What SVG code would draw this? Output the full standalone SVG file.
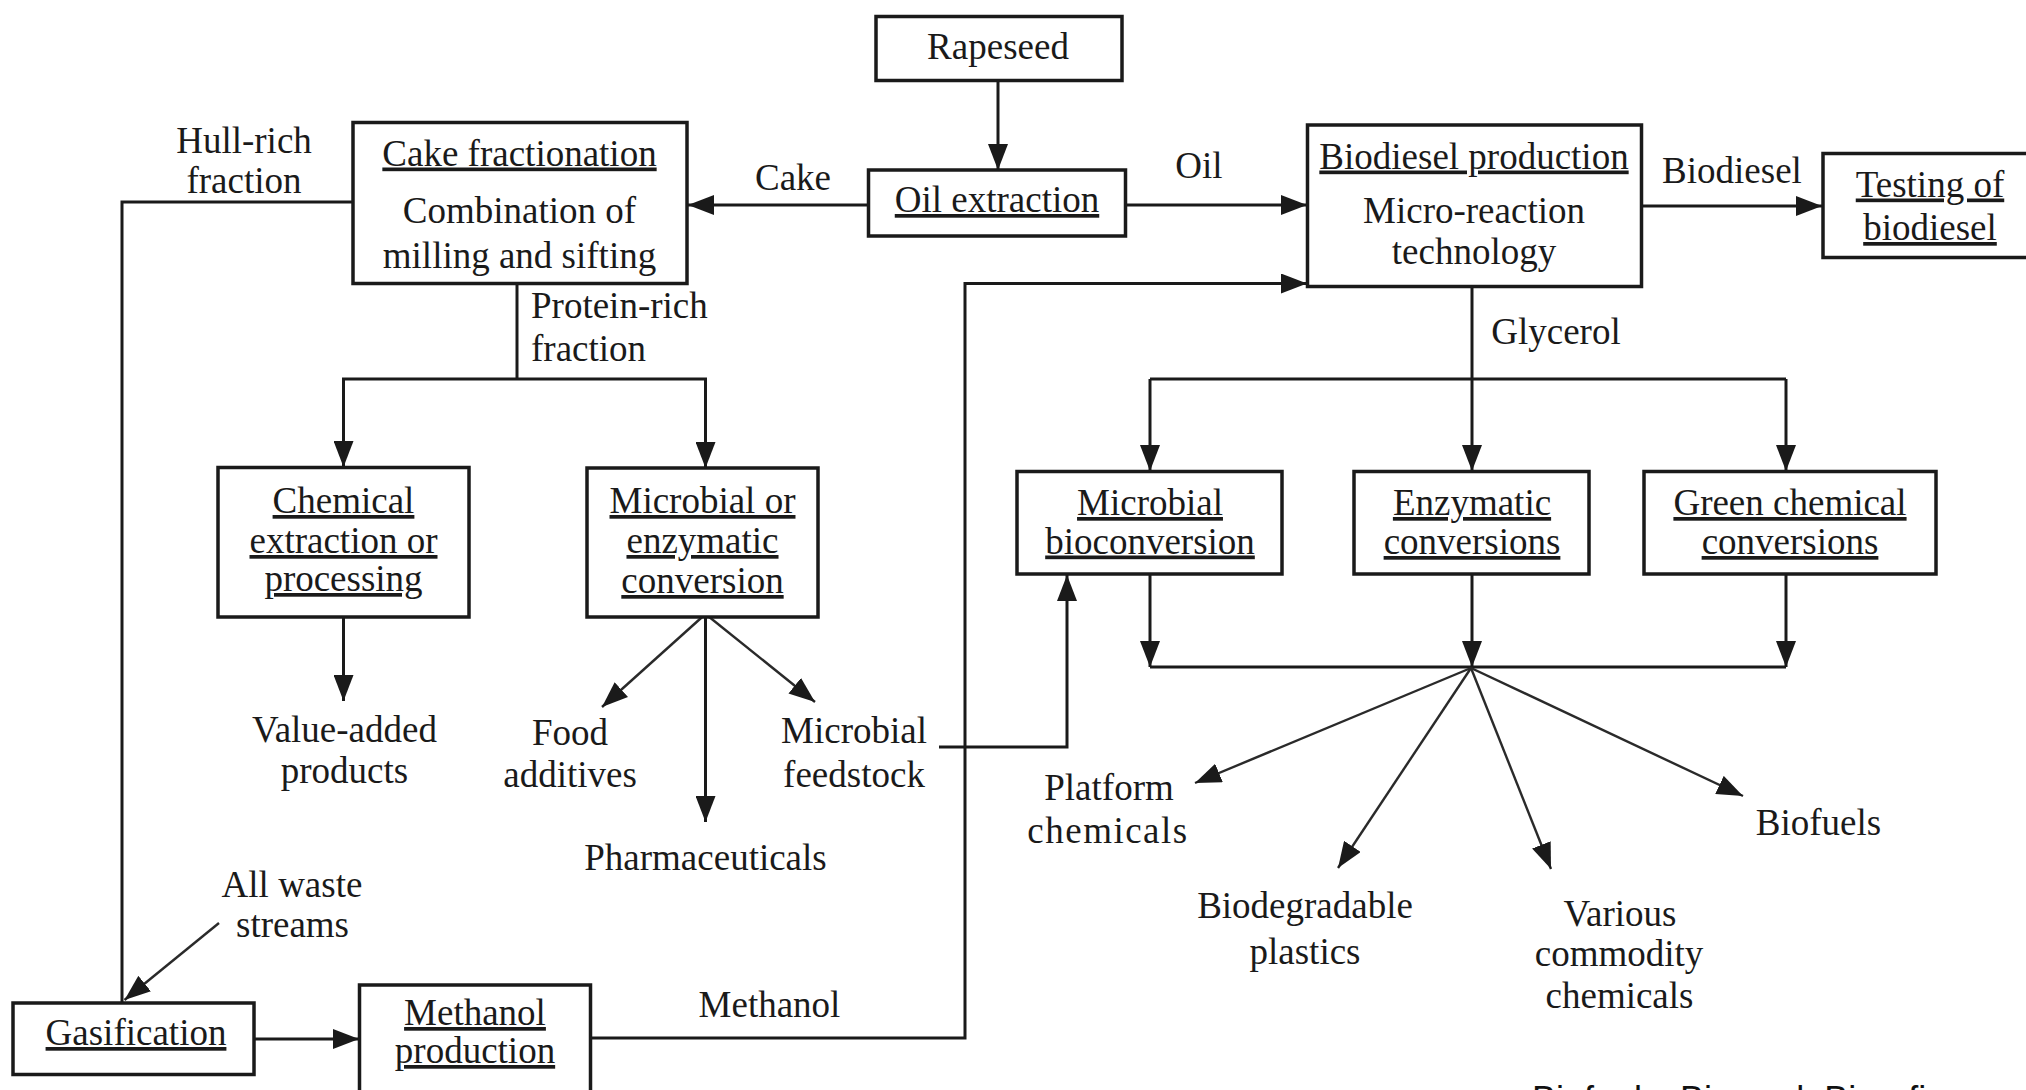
<svg xmlns="http://www.w3.org/2000/svg" width="2026" height="1090" viewBox="0 0 2026 1090">
<defs>
<style>
.bg{fill:#ffffff}
.box{fill:#ffffff;stroke:#1a1a1a;stroke-width:3.5}
.ln{fill:none;stroke:#1a1a1a;stroke-width:3}
.thin{fill:none;stroke:#2a2a2a;stroke-width:2.4}
.t{font-family:"Liberation Serif","Times New Roman",serif;font-size:37px;fill:#1a1a1a;text-anchor:middle}
.s{text-anchor:start}
.u{text-decoration:underline;text-decoration-thickness:3px}
.cap{font-family:"Liberation Sans",Arial,sans-serif;font-size:36px;fill:#111}
</style>
<marker id="arr" markerUnits="userSpaceOnUse" markerWidth="26" markerHeight="20" viewBox="0 0 26 20" refX="26" refY="10" orient="auto">
<path d="M0,0 L26,10 L0,20 Z" fill="#1a1a1a"/>
</marker>
</defs>
<rect class="bg" x="0" y="0" width="2026" height="1090"/>

<g id="connectors">
<line class="ln" x1="998" y1="81" x2="998" y2="170" marker-end="url(#arr)"/>
<line class="ln" x1="868" y1="205" x2="688" y2="205" marker-end="url(#arr)"/>
<line class="ln" x1="1125" y1="205" x2="1307" y2="205" marker-end="url(#arr)"/>
<polyline class="ln" points="353,202 122,202 122,1003"/>
<polyline class="ln" points="517,283 517,379"/>
<polyline class="ln" points="343.5,467 343.5,379 705.5,379 705.5,468"/>
<line class="ln" x1="343.5" y1="379" x2="343.5" y2="467" marker-end="url(#arr)"/>
<line class="ln" x1="705.5" y1="379" x2="705.5" y2="468" marker-end="url(#arr)"/>
<line class="ln" x1="343.5" y1="617" x2="343.5" y2="701" marker-end="url(#arr)"/>
<line class="thin" x1="705.5" y1="614" x2="602" y2="707" marker-end="url(#arr)"/>
<line class="ln" x1="705.5" y1="614" x2="705.5" y2="822" marker-end="url(#arr)"/>
<line class="thin" x1="705.5" y1="614" x2="815" y2="702" marker-end="url(#arr)"/>
<polyline class="ln" points="939,747 1067,747 1067,575" marker-end="url(#arr)"/>
<polyline class="ln" points="591,1038 965,1038 965,283.5 1307,283.5" marker-end="url(#arr)"/>
<line class="ln" x1="1642" y1="206" x2="1822" y2="206" marker-end="url(#arr)"/>
<line class="ln" x1="1472" y1="287" x2="1472" y2="471" marker-end="url(#arr)"/>
<polyline class="ln" points="1150,379 1786,379"/>
<line class="ln" x1="1150" y1="379" x2="1150" y2="471" marker-end="url(#arr)"/>
<line class="ln" x1="1786" y1="379" x2="1786" y2="471" marker-end="url(#arr)"/>
<line class="ln" x1="1150" y1="574" x2="1150" y2="667" marker-end="url(#arr)"/>
<line class="ln" x1="1472" y1="574" x2="1472" y2="667" marker-end="url(#arr)"/>
<line class="ln" x1="1786" y1="574" x2="1786" y2="667" marker-end="url(#arr)"/>
<polyline class="ln" points="1150,667 1786,667"/>
<line class="thin" x1="1471" y1="668" x2="1195" y2="783" marker-end="url(#arr)"/>
<line class="thin" x1="1471" y1="668" x2="1338" y2="868" marker-end="url(#arr)"/>
<line class="thin" x1="1471" y1="668" x2="1551" y2="869" marker-end="url(#arr)"/>
<line class="thin" x1="1471" y1="668" x2="1743" y2="796" marker-end="url(#arr)"/>
<line class="thin" x1="219" y1="923" x2="124.5" y2="1000" marker-end="url(#arr)"/>
<line class="ln" x1="254" y1="1039" x2="359" y2="1039" marker-end="url(#arr)"/>
</g>

<g id="rapeseed">
<rect class="box" x="876" y="16.5" width="246" height="64"/>
<text class="t" x="998" y="59">Rapeseed</text>
</g>
<g id="oil-extraction">
<rect class="box" x="868.5" y="170" width="257" height="66"/>
<text class="t u" x="997" y="212">Oil extraction</text>
</g>
<g id="cake-fractionation">
<rect class="box" x="353" y="122.5" width="334" height="161"/>
<text class="t u" x="519.5" y="165.5">Cake fractionation</text>
<text class="t" x="519.5" y="222.5">Combination of</text>
<text class="t" x="519.5" y="268">milling and sifting</text>
</g>
<g id="biodiesel-production">
<rect class="box" x="1307.5" y="125" width="334" height="161.5"/>
<text class="t u" x="1474" y="168.5">Biodiesel production</text>
<text class="t" x="1474" y="222.5">Micro-reaction</text>
<text class="t" x="1474" y="264">technology</text>
</g>
<g id="testing">
<rect class="box" x="1823" y="153.5" width="230" height="104"/>
<text class="t u" x="1930" y="196.5">Testing of</text>
<text class="t u" x="1930" y="240">biodiesel</text>
</g>
<g id="chemical-extraction">
<rect class="box" x="218" y="467.5" width="251" height="149.5"/>
<text class="t u" x="343.5" y="513">Chemical</text>
<text class="t u" x="343.5" y="553">extraction or</text>
<text class="t u" x="343.5" y="591">processing</text>
</g>
<g id="microbial-enzymatic">
<rect class="box" x="587" y="468" width="231" height="149"/>
<text class="t u" x="702.5" y="513">Microbial or</text>
<text class="t u" x="702.5" y="553">enzymatic</text>
<text class="t u" x="702.5" y="593">conversion</text>
</g>
<g id="microbial-bioconversion">
<rect class="box" x="1017" y="471.5" width="265" height="102.5"/>
<text class="t u" x="1150" y="515">Microbial</text>
<text class="t u" x="1150" y="553.5">bioconversion</text>
</g>
<g id="enzymatic-conversions">
<rect class="box" x="1354" y="471.5" width="235" height="102.5"/>
<text class="t u" x="1472" y="515">Enzymatic</text>
<text class="t u" x="1472" y="554">conversions</text>
</g>
<g id="green-chemical">
<rect class="box" x="1644" y="471.5" width="292" height="102.5"/>
<text class="t u" x="1790" y="515">Green chemical</text>
<text class="t u" x="1790" y="554">conversions</text>
</g>
<g id="gasification">
<rect class="box" x="13" y="1003" width="241" height="71.5"/>
<text class="t u" x="136" y="1045">Gasification</text>
</g>
<g id="methanol-production">
<rect class="box" x="359.5" y="985" width="231" height="130"/>
<text class="t u" x="475" y="1025">Methanol</text>
<text class="t u" x="475" y="1063">production</text>
</g>

<g id="labels">
<text class="t" x="793" y="190">Cake</text>
<text class="t" x="1199" y="177.5">Oil</text>
<text class="t" x="1732" y="183">Biodiesel</text>
<text class="t" x="244" y="152.5">Hull-rich</text>
<text class="t" x="244" y="193">fraction</text>
<text class="t s" x="531" y="318">Protein-rich</text>
<text class="t s" x="531" y="360.5">fraction</text>
<text class="t" x="1556" y="344">Glycerol</text>
<text class="t" x="769.5" y="1016.5">Methanol</text>
<text class="t" x="292" y="896.5">All waste</text>
<text class="t" x="292.5" y="936.5">streams</text>
</g>
<g id="products">
<text class="t" x="344.5" y="742">Value-added</text>
<text class="t" x="344.5" y="782.5">products</text>
<text class="t" x="570" y="745">Food</text>
<text class="t" x="570" y="786.5">additives</text>
<text class="t" x="705.5" y="870">Pharmaceuticals</text>
<text class="t" x="854" y="743">Microbial</text>
<text class="t" x="854" y="786.5">feedstock</text>
<text class="t" x="1109" y="800">Platform</text>
<text class="t" x="1108" y="843" letter-spacing="1.5">chemicals</text>
<text class="t" x="1305" y="918">Biodegradable</text>
<text class="t" x="1305" y="964">plastics</text>
<text class="t" x="1620" y="926">Various</text>
<text class="t" x="1619" y="966">commodity</text>
<text class="t" x="1619.5" y="1008">chemicals</text>
<text class="t" x="1818.5" y="835">Biofuels</text>
</g>
<text class="cap" x="1532" y="1112">Biofuels, Bioprod. Biorefin.</text>
</svg>
